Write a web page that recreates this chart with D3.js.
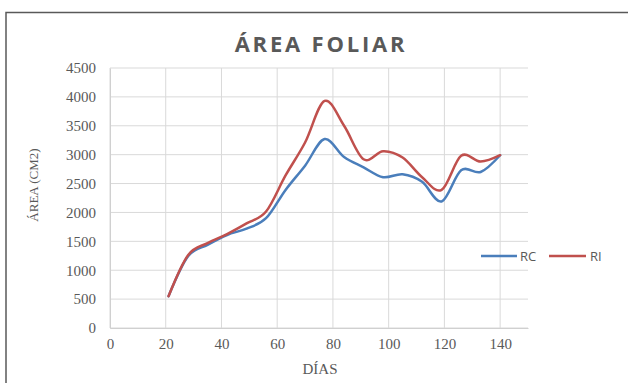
<!DOCTYPE html>
<html><head><meta charset="utf-8">
<script src="https://cdn.jsdelivr.net/npm/d3@7"></script>
<style>html,body{margin:0;padding:0;background:#fff;}svg{display:block;}</style>
</head><body>
<script>
const days = [21, 28, 35, 42, 49, 56, 63, 70, 77, 84, 91, 98, 105, 112, 119, 126, 133, 140];
const rcValues = [550, 1240, 1440, 1610, 1720, 1900, 2390, 2810, 3270, 2960, 2780, 2610, 2660, 2530, 2190, 2730, 2700, 2990];
const riValues = [550, 1260, 1470, 1625, 1810, 2015, 2640, 3210, 3930, 3500, 2920, 3060, 2950, 2610, 2390, 2980, 2880, 2990];
const seriesNames = ["RC", "RI"];
const xTicks = [0, 20, 40, 60, 80, 100, 120, 140];
const yTicks = [0, 500, 1000, 1500, 2000, 2500, 3000, 3500, 4000, 4500];
const titleText = "ÁREA FOLIAR";
const xTitle = "DÍAS";
const yTitle = "ÁREA (CM2)";

const W = 628, H = 383;
const colors = {RC: "#4a7ebb", RI: "#c0504d"};
const svg = d3.select("body").append("svg").attr("width", W).attr("height", H);

svg.append("rect").attr("x", 6).attr("y", 12.5).attr("width", 640).attr("height", 400)
  .attr("fill", "#fff").attr("stroke", "#595959").attr("stroke-width", 1.5);

const x = d3.scaleLinear().domain([0, 150]).range([110, 528]);
const y = d3.scaleLinear().domain([0, 4500]).range([328, 68]);

const grid = svg.append("g");
grid.selectAll(".hg").data(yTicks).enter().append("line")
  .attr("x1", x(0)).attr("x2", x(150)).attr("y1", d => y(d)).attr("y2", d => y(d))
  .attr("stroke", "#d9d9d9").attr("stroke-width", 1);
grid.selectAll(".vg").data(xTicks).enter().append("line")
  .attr("x1", d => x(d)).attr("x2", d => x(d)).attr("y1", y(0)).attr("y2", y(4500))
  .attr("stroke", "#d9d9d9").attr("stroke-width", 1);

const xAxis = svg.append("g").attr("transform", `translate(0,${y(0)})`)
  .call(d3.axisBottom(x).tickValues(xTicks).tickSize(0).tickPadding(10).tickFormat(d3.format("d")));
xAxis.select(".domain").attr("stroke", "#d0d0d0");
xAxis.selectAll("text").attr("font-family", "Liberation Serif").attr("font-size", 15).attr("fill", "#595959");

const yAxis = svg.append("g").attr("transform", `translate(${x(0)},0)`)
  .call(d3.axisLeft(y).tickValues(yTicks).tickSize(0).tickPadding(14).tickFormat(d3.format("d")));
yAxis.select(".domain").attr("stroke", "#d0d0d0");
yAxis.selectAll("text").attr("font-family", "Liberation Serif").attr("font-size", 15).attr("fill", "#595959");

const line = d3.line().x(d => x(d[0])).y(d => y(d[1])).curve(d3.curveCardinal.tension(0));
const data = {RC: days.map((d, i) => [d, rcValues[i]]), RI: days.map((d, i) => [d, riValues[i]])};
seriesNames.forEach(n => {
  svg.append("path").datum(data[n]).attr("d", line).attr("fill", "none")
    .attr("stroke", colors[n]).attr("stroke-width", 2.5).attr("stroke-linejoin", "round").attr("stroke-linecap", "round");
});

svg.append("text").attr("x", 321).attr("y", 52).attr("text-anchor", "middle")
  .attr("font-family", "Open Sans").attr("font-weight", "bold").attr("font-size", 22)
  .attr("letter-spacing", 2.8).attr("fill", "#595959").text(titleText);

svg.append("text").attr("x", 320).attr("y", 374).attr("text-anchor", "middle")
  .attr("font-family", "Liberation Serif").attr("font-size", 15).attr("fill", "#595959").text(xTitle);

svg.append("text").attr("transform", "translate(38,185) rotate(-90)").attr("text-anchor", "middle")
  .attr("font-family", "Liberation Serif").attr("font-size", 13).attr("fill", "#595959").text(yTitle);

const legendItems = [{n: "RC", x1: 481, x2: 517, tx: 520}, {n: "RI", x1: 549, x2: 586, tx: 590}];
legendItems.forEach(it => {
  svg.append("line").attr("x1", it.x1).attr("x2", it.x2).attr("y1", 256).attr("y2", 256)
    .attr("stroke", colors[it.n]).attr("stroke-width", 2.5);
  svg.append("text").attr("x", it.tx).attr("y", 261).attr("font-family", "Open Sans")
    .attr("font-size", 13).attr("fill", "#595959").text(it.n);
});
</script>
</body></html>
